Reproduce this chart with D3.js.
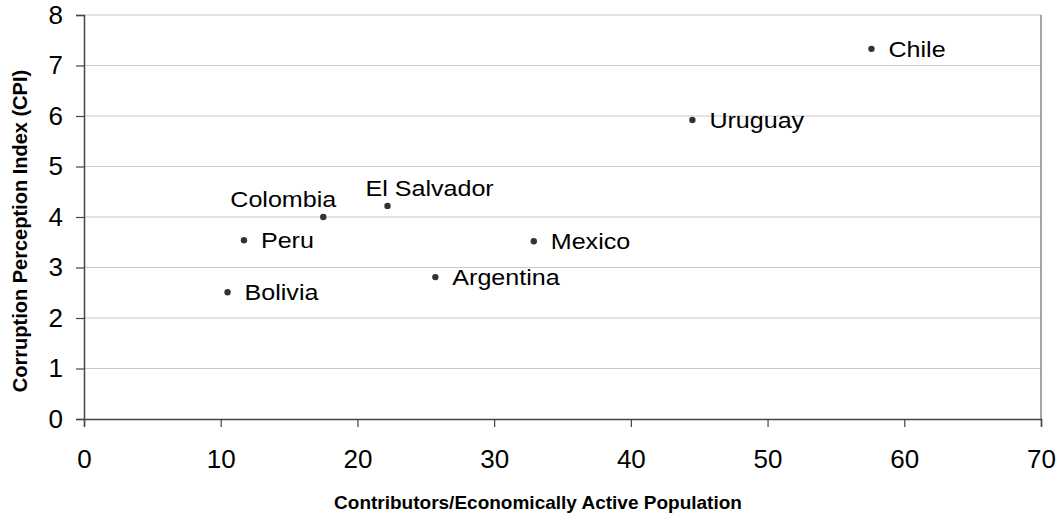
<!DOCTYPE html>
<html>
<head>
<meta charset="utf-8">
<script src="https://cdn.jsdelivr.net/npm/d3@7"></script>
<style>
  html, body { margin: 0; padding: 0; background: #fff; }
  svg { display: block; font-family: "Liberation Sans", Arial, sans-serif; }
</style>
</head>
<body>
<svg id="chart" width="1063" height="518"></svg>
<script>
const countries = ["Chile", "Uruguay", "Colombia", "El Salvador", "Peru", "Bolivia", "Argentina", "Mexico"];
const contributors = [57.6, 44.5, 17.5, 22.2, 11.7, 10.5, 25.7, 32.9];
const cpi = [7.33, 5.92, 4.0, 4.22, 3.54, 2.51, 2.81, 3.52];
const labelPlacement = ["right", "right", "aboveLeft", "aboveRight", "right", "right", "right", "right"];
const xTicks = [0, 10, 20, 30, 40, 50, 60, 70];
const yTicks = [0, 1, 2, 3, 4, 5, 6, 7, 8];
const xTitle = "Contributors/Economically Active Population";
const yTitle = "Corruption Perception Index (CPI)";

(function () {
const svg = d3.select("#chart");
const mLeft = 84, mRight = 1041, mTop = 15, mBottom = 419;

const x = d3.scaleLinear().domain([0, 70]).range([mLeft, mRight]);
const y = d3.scaleLinear().domain([0, 8]).range([mBottom, mTop]);

// gridlines
svg.append("g").selectAll("line").data(yTicks.filter(d => d > 0)).join("line")
  .attr("x1", mLeft).attr("x2", mRight)
  .attr("y1", d => y(d)).attr("y2", d => y(d))
  .attr("stroke", "#c8c8c8").attr("stroke-width", 1);

// right border
svg.append("line").attr("x1", mRight).attr("x2", mRight).attr("y1", mTop).attr("y2", mBottom)
  .attr("stroke", "#888").attr("stroke-width", 1.5);

// axes
const xAxis = svg.append("g").attr("transform", `translate(0,${mBottom})`)
  .call(d3.axisBottom(x).tickValues(xTicks).tickSize(8).tickPadding(23).tickFormat(d3.format("d")));
const yAxis = svg.append("g").attr("transform", `translate(${mLeft},0)`)
  .call(d3.axisLeft(y).tickValues(yTicks).tickSize(8).tickPadding(13).tickFormat(d3.format("d")));
[xAxis, yAxis].forEach(a => {
  a.select(".domain").attr("stroke", "#444").attr("stroke-width", 1.5);
  a.selectAll(".tick line").attr("stroke", "#444").attr("stroke-width", 1.2);
  a.selectAll(".tick text").attr("fill", "#000").style("font-size", "26px")
    .style("font-family", "'Liberation Sans', Arial, sans-serif");
});
xAxis.selectAll(".tick text").attr("dy", "0.71em");

// points
const data = countries.map((c, i) => ({ name: c, xv: contributors[i], yv: cpi[i], place: labelPlacement[i] }));
svg.append("g").selectAll("circle").data(data).join("circle")
  .attr("cx", d => x(d.xv)).attr("cy", d => y(d.yv)).attr("r", 3.2)
  .attr("fill", "#333");

const off = {
  right: { dx: 17, dy: 8, anchor: "start" },
  aboveLeft: { dx: -40, dy: -10, anchor: "middle" },
  aboveRight: { dx: -22, dy: -10, anchor: "start" }
};
svg.append("g").selectAll("text").data(data).join("text")
  .attr("transform", d => `translate(${x(d.xv) + off[d.place].dx},${y(d.yv) + off[d.place].dy}) scale(1.14,1)`)
  .attr("text-anchor", d => off[d.place].anchor)
  .style("font-size", "22px").attr("fill", "#000")
  .text(d => d.name);

// titles
svg.append("text").attr("x", 538).attr("y", 509).attr("text-anchor", "middle")
  .style("font-size", "19px").style("font-weight", "bold").text(xTitle);
svg.append("text").attr("transform", "translate(27,231) rotate(-90)").attr("text-anchor", "middle")
  .style("font-size", "20px").style("font-weight", "bold").text(yTitle);
})();
</script>
</body>
</html>
